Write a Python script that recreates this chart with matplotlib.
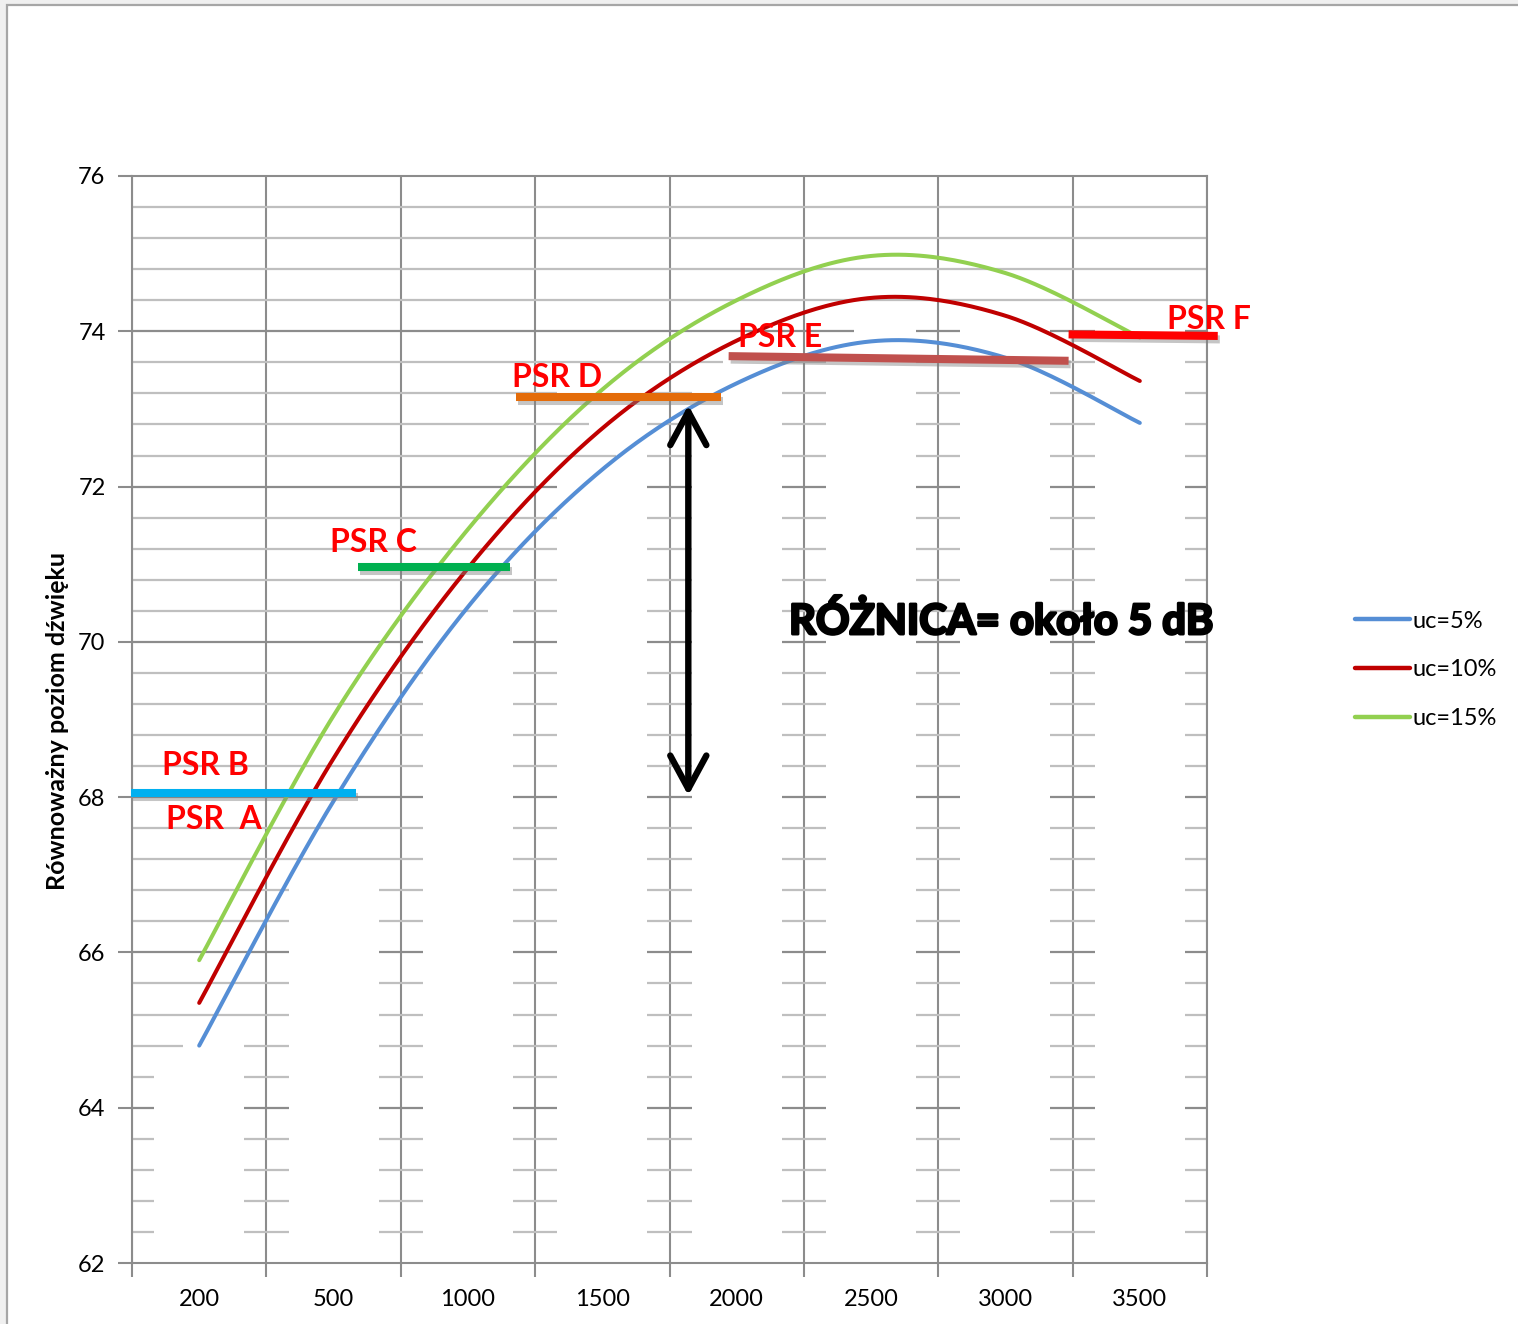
import numpy as np
import matplotlib
matplotlib.use("Agg")
import matplotlib.pyplot as plt
from matplotlib.patches import Rectangle, FancyArrowPatch
from matplotlib import patheffects as pe

# ---- data -------------------------------------------------------------
freqs = ["200", "500", "1000", "1500", "2000", "2500", "3000", "3500"]
uc5 = [64.8, 67.95, 70.45, 72.22, 73.33, 73.87, 73.66, 72.82]
uc10 = [65.35, 68.5, 70.95, 72.75, 73.88, 74.43, 74.2, 73.36]
uc15 = [65.9, 69.05, 71.45, 73.25, 74.4, 74.97, 74.75, 73.92]
series_labels = ["uc=5%", "uc=10%", "uc=15%"]
series_colors = ["#558ED5", "#C00000", "#92D050"]

# PSR reference segments (category coordinates, dB levels)
psr_x0 = [-0.51, 1.18, 2.36, 3.94, 6.47]
psr_x1 = [1.17, 2.31, 3.88, 6.47, 7.58]
psr_y0 = [68.05, 70.96, 73.15, 73.68, 73.96]
psr_y1 = [68.05, 70.96, 73.15, 73.62, 73.94]
psr_colors = ["#00B0F0", "#00B050", "#E46C0A", "#C0504D", "#FF0000"]

psr_labels = ["PSR B", "PSR  A", "PSR C", "PSR D", "PSR E", "PSR F"]
psr_label_x = [-0.28, -0.25, 0.97, 2.33, 4.01, 7.20]
psr_label_y = [68.28, 67.59, 71.16, 73.28, 73.80, 74.03]

diff_text = "RÓŻNICA= około 5 dB"
diff_x = 3.64
diff_top = 73.05
diff_bottom = 68.02

y_label = "Równoważny poziom dźwięku"
y_ticks = [62, 64, 66, 68, 70, 72, 74, 76]

# horizontal grid levels and how far (in categories) each is drawn solid
grid_levels = np.round(np.arange(62.4, 75.7, 0.4), 1)
grid_solid_to = [-0.5, -0.5, -0.5, -0.5, -0.5, -0.5, -0.12, 0.66, 0.66, 0.66,
                 0.66, 0.66, 1.66, 1.66, 1.66, 1.66, 1.66, 1.66, 1.66, 1.66,
                 2.15, 2.66, 2.66, 2.66, 2.66, 3.1, 2.9, 2.38, 3.9, 4.87,
                 7.5, 7.5, 7.5, 7.5]


def excel_smooth(xs, ys, n=40):
    """Cubic Bezier smoothing through the points (Catmull-Rom, tension 1/6)."""
    P = np.column_stack([xs, ys]).astype(float)
    P_ext = np.vstack([P[0], P, P[-1]])
    out = []
    t = np.linspace(0, 1, n)[:, None]
    for i in range(len(P) - 1):
        p0, p1, p2, p3 = P_ext[i], P_ext[i + 1], P_ext[i + 2], P_ext[i + 3]
        c1 = p1 + (p2 - p0) / 6.0
        c2 = p2 - (p3 - p1) / 6.0
        seg = ((1 - t) ** 3) * p1 + 3 * ((1 - t) ** 2) * t * c1 \
            + 3 * (1 - t) * t ** 2 * c2 + t ** 3 * p2
        out.append(seg if i == 0 else seg[1:])
    out = np.vstack(out)
    return out[:, 0], out[:, 1]


W, H = 1518, 1324
fig = plt.figure(figsize=(W / 100, H / 100), dpi=100)
fig.patch.set_facecolor("#F0F0F0")
fig.patches.append(Rectangle((7 / W, -0.1), 1.2, (H - 5) / H + 0.1,
                             transform=fig.transFigure, facecolor="white",
                             edgecolor="#A6A6A6", lw=1.6, zorder=-10))

ax = fig.add_axes([132 / W, 1 - 1263 / H, (1207 - 132) / W, (1263 - 176) / H])
ax.set_facecolor("white")
ax.set_xlim(-0.5, 7.5)
ax.set_ylim(62, 76)

grid_dark = "#8C8C8C"
grid_light = "#BFBFBF"

# vertical grid lines at category boundaries
bounds = np.arange(-0.5, 8.0, 1.0)
for b in bounds:
    ax.axvline(b, color=grid_dark, lw=1.5, zorder=1)

# horizontal grid lines: solid part plus short marks at each boundary
for lev, solid in zip(grid_levels, grid_solid_to):
    major = abs(lev - round(lev)) < 1e-6 and int(round(lev)) % 2 == 0
    col = grid_dark if major else grid_light
    if solid > -0.5:
        ax.hlines(lev, -0.5, solid, color=col, lw=1.6, zorder=1)
    for b in bounds:
        if b + 0.165 > solid:
            a0 = max(-0.5, b - 0.165, solid)
            a1 = min(7.5, b + 0.165)
            if a1 > a0:
                ax.hlines(lev, a0, a1, color=col, lw=1.6, zorder=1)

# smoothed series
xpos = np.arange(len(freqs))
for vals, lab, col in zip([uc5, uc10, uc15], series_labels, series_colors):
    sx, sy = excel_smooth(xpos, vals)
    ax.plot(sx, sy, color=col, lw=2.9, label=lab, solid_capstyle="round", zorder=3)

# PSR segments
shadow = [pe.SimpleLineShadow(offset=(1.5, -2.5), shadow_color="#808080", alpha=0.45),
          pe.Normal()]
for x0, x1, y0, y1, c in zip(psr_x0, psr_x1, psr_y0, psr_y1, psr_colors):
    ax.plot([x0, x1], [y0, y1], color=c, lw=5.8, solid_capstyle="butt",
            zorder=4, clip_on=False, path_effects=shadow)

for t, x, y in zip(psr_labels, psr_label_x, psr_label_y):
    ax.text(x, y, t, color="#FF0000", fontsize=23, fontweight="bold",
            family="Lato", ha="left", va="baseline", zorder=6)

# difference arrow and annotation
arr = FancyArrowPatch((diff_x, diff_bottom), (diff_x, diff_top),
                      arrowstyle="<->,head_length=1.2,head_width=0.65",
                      mutation_scale=20, color="black", lw=4.6,
                      shrinkA=0, shrinkB=0, zorder=5, capstyle="round",
                      joinstyle="round")
ax.add_patch(arr)
ax.text(4.39, 70.10, diff_text, fontsize=30, fontweight="bold", family="Lato",
        color="black", ha="left", va="baseline", zorder=6,
        path_effects=[pe.withStroke(linewidth=2.0, foreground="black")])

# axes styling
for s in ["left", "bottom", "top", "right"]:
    ax.spines[s].set_color(grid_dark)
    ax.spines[s].set_linewidth(1.5)
ax.set_yticks(y_ticks)
ax.set_yticklabels([str(v) for v in y_ticks])
ax.set_xticks(xpos)
ax.set_xticklabels(freqs)
ax.set_xticks(bounds, minor=True)
ax.tick_params(axis="x", which="major", length=0, pad=19)
ax.tick_params(axis="x", which="minor", length=10, width=1.5, color=grid_dark,
               direction="out")
ax.tick_params(axis="y", which="major", length=10, width=1.5, color=grid_dark,
               direction="out", pad=9)
for lab in ax.get_xticklabels() + ax.get_yticklabels():
    lab.set_family("Lato")
    lab.set_fontsize(17)
    lab.set_color("black")

ax.text((58 - 132) / 1075, (1263 - 721) / 1087, y_label, transform=ax.transAxes,
        rotation=90, ha="center", va="center", fontsize=18, fontweight="bold",
        family="Lato", color="black")

leg = ax.legend(loc="center left", bbox_to_anchor=(1355 / W, 1 - 670 / H),
                bbox_transform=fig.transFigure, frameon=False, borderpad=0,
                borderaxespad=0, handlelength=2.35, handletextpad=0.1,
                labelspacing=1.18, prop={"family": "Lato", "size": 17})
for h in leg.get_lines():
    h.set_linewidth(3.2)

fig.savefig("out.png", dpi=100, facecolor=fig.get_facecolor())
